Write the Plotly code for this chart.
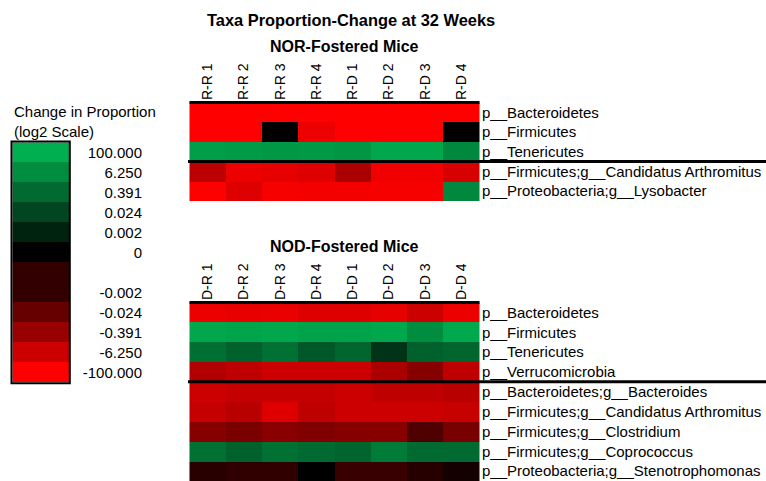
import plotly.graph_objects as go

W, H = 766, 481

# Sample columns for each panel
nor_samples = ["R-R 1", "R-R 2", "R-R 3", "R-R 4", "R-D 1", "R-D 2", "R-D 3", "R-D 4"]
nod_samples = ["D-R 1", "D-R 2", "D-R 3", "D-R 4", "D-D 1", "D-D 2", "D-D 3", "D-D 4"]

# Taxa rows
nor_taxa = [
    "p__Bacteroidetes",
    "p__Firmicutes",
    "p__Tenericutes",
    "p__Firmicutes;g__Candidatus Arthromitus",
    "p__Proteobacteria;g__Lysobacter",
]
nod_taxa = [
    "p__Bacteroidetes",
    "p__Firmicutes",
    "p__Tenericutes",
    "p__Verrucomicrobia",
    "p__Bacteroidetes;g__Bacteroides",
    "p__Firmicutes;g__Candidatus Arthromitus",
    "p__Firmicutes;g__Clostridium",
    "p__Firmicutes;g__Coprococcus",
    "p__Proteobacteria;g__Stenotrophomonas",
]

# Scaled change (log2 colour scale): -1 = -100, 0 = no change, +1 = +100
nor_bacteroidetes = [-1.00, -1.00, -1.00, -1.00, -1.00, -1.00, -1.00, -1.00]
nor_firmicutes = [-1.00, -1.00, 0.00, -0.93, -1.00, -1.00, -1.00, 0.00]
nor_tenericutes = [0.90, 0.88, 0.86, 0.87, 0.85, 0.95, 0.95, 0.78]
nor_arthromitus = [-0.73, -0.93, -0.90, -0.87, -0.67, -0.94, -0.94, -0.84]
nor_lysobacter = [-1.00, -0.87, -0.97, -0.96, -0.96, -0.97, -0.97, 0.78]

nod_bacteroidetes = [-0.93, -0.91, -0.92, -0.87, -0.87, -0.90, -0.80, -0.93]
nod_firmicutes = [0.95, 0.93, 0.95, 0.92, 0.92, 0.95, 0.80, 0.96]
nod_tenericutes = [0.63, 0.55, 0.64, 0.50, 0.58, 0.29, 0.55, 0.58]
nod_verrucomicrobia = [-0.69, -0.75, -0.80, -0.80, -0.80, -0.67, -0.53, -0.75]
nod_bacteroides = [-0.80, -0.77, -0.77, -0.77, -0.80, -0.75, -0.75, -0.72]
nod_arthromitus = [-0.77, -0.72, -0.87, -0.75, -0.80, -0.80, -0.80, -0.78]
nod_clostridium = [-0.53, -0.48, -0.54, -0.50, -0.53, -0.53, -0.31, -0.47]
nod_coprococcus = [0.64, 0.55, 0.64, 0.60, 0.57, 0.70, 0.60, 0.60]
nod_stenotrophomonas = [-0.16, -0.19, -0.19, 0.00, -0.22, -0.22, -0.15, -0.08]

# Colour key steps and their labels
key_levels = [1.0, 0.8, 0.6, 0.4, 0.2, 0.0, -0.2, -0.2, -0.4, -0.6, -0.8, -1.0]
key_labels = ["100.000", "6.250", "0.391", "0.024", "0.002", "0", "",
              "-0.002", "-0.024", "-0.391", "-6.250", "-100.000"]

nor_z = [nor_bacteroidetes, nor_firmicutes, nor_tenericutes, nor_arthromitus, nor_lysobacter]
nod_z = [nod_bacteroidetes, nod_firmicutes, nod_tenericutes, nod_verrucomicrobia,
         nod_bacteroides, nod_arthromitus, nod_clostridium, nod_coprococcus,
         nod_stenotrophomonas]

FONT = "Liberation Sans, Arial, Helvetica, sans-serif"
colorscale = [[0.0, "rgb(255,0,0)"], [0.5, "rgb(0,0,0)"], [1.0, "rgb(0,176,80)"]]


def px_x(p):
    return p / W


def px_y(p):
    return 1 - p / H


fig = go.Figure()

fig.add_trace(go.Heatmap(z=nor_z, x=nor_samples, y=nor_taxa, colorscale=colorscale,
                         zmin=-1, zmax=1, showscale=False, xaxis="x", yaxis="y",
                         hoverinfo="x+y+z"))
fig.add_trace(go.Heatmap(z=nod_z, x=nod_samples, y=nod_taxa, colorscale=colorscale,
                         zmin=-1, zmax=1, showscale=False, xaxis="x2", yaxis="y2",
                         hoverinfo="x+y+z"))
fig.add_trace(go.Heatmap(z=[[v] for v in key_levels], x=[0],
                         y=list(range(len(key_levels))), colorscale=colorscale,
                         zmin=-1, zmax=1, showscale=False, xaxis="x3", yaxis="y3",
                         hoverinfo="skip"))

heat_x = [px_x(188), px_x(481)]
col_axis = dict(domain=heat_x, side="top", tickangle=-90, ticks="", showgrid=False,
                zeroline=False, showline=False, tickfont=dict(size=14, color="black"))
row_axis = dict(side="right", autorange="reversed", ticks="", showgrid=False,
                zeroline=False, showline=False, tickfont=dict(size=15, color="black"))

fig.update_layout(
    width=W, height=H,
    margin=dict(l=0, r=0, t=0, b=0),
    paper_bgcolor="white", plot_bgcolor="white",
    font=dict(family=FONT, color="black"),
    xaxis=dict(col_axis, anchor="y"),
    yaxis=dict(row_axis, domain=[px_y(201), px_y(101)], anchor="x"),
    xaxis2=dict(col_axis, anchor="y2"),
    yaxis2=dict(row_axis, domain=[0, px_y(301)], anchor="x2"),
    xaxis3=dict(domain=[px_x(12.3), px_x(69)], anchor="y3", visible=False),
    yaxis3=dict(domain=[px_y(382.3), px_y(142.3)], anchor="free", position=px_x(142),
                side="left", autorange="reversed", ticks="", showgrid=False,
                zeroline=False, showline=False,
                tickmode="array", tickvals=list(range(len(key_levels))),
                ticktext=key_labels, tickfont=dict(size=15, color="black")),
    showlegend=False,
)

line = dict(color="black", width=3)
shapes = [
    # top edges of each panel
    dict(type="line", xref="x", yref="y", x0=-0.5, x1=7.5, y0=-0.5, y1=-0.5, line=line),
    dict(type="line", xref="x2", yref="y2", x0=-0.5, x1=7.5, y0=-0.5, y1=-0.5, line=line),
    # phylum / genus separators running under the row labels
    dict(type="line", xref="paper", yref="y", x0=px_x(188), x1=1, y0=2.5, y1=2.5, line=line),
    dict(type="line", xref="paper", yref="y2", x0=px_x(188), x1=1, y0=3.5, y1=3.5, line=line),
    # frame around the colour key
    dict(type="rect", xref="paper", yref="paper", x0=px_x(11.5), x1=px_x(69.8),
         y0=px_y(383.2), y1=px_y(141.5), line=dict(color="black", width=2)),
]
fig.update_layout(shapes=shapes)

ann = [
    dict(text="<b>Taxa Proportion-Change at 32 Weeks</b>", x=px_x(351), y=px_y(20),
         font=dict(size=16.4)),
    dict(text="<b>NOR-Fostered Mice</b>", x=px_x(344), y=px_y(46), font=dict(size=16)),
    dict(text="<b>NOD-Fostered Mice</b>", x=px_x(344), y=px_y(246.5), font=dict(size=16)),
    dict(text="Change in Proportion", x=px_x(12), y=px_y(111), xanchor="left",
         font=dict(size=15)),
    dict(text="(log2 Scale)", x=px_x(12), y=px_y(131), xanchor="left", font=dict(size=15)),
]
for a in ann:
    a.setdefault("xanchor", "center")
    a.update(xref="paper", yref="paper", yanchor="middle", showarrow=False)
fig.update_layout(annotations=ann)

fig.write_html("out.html")
